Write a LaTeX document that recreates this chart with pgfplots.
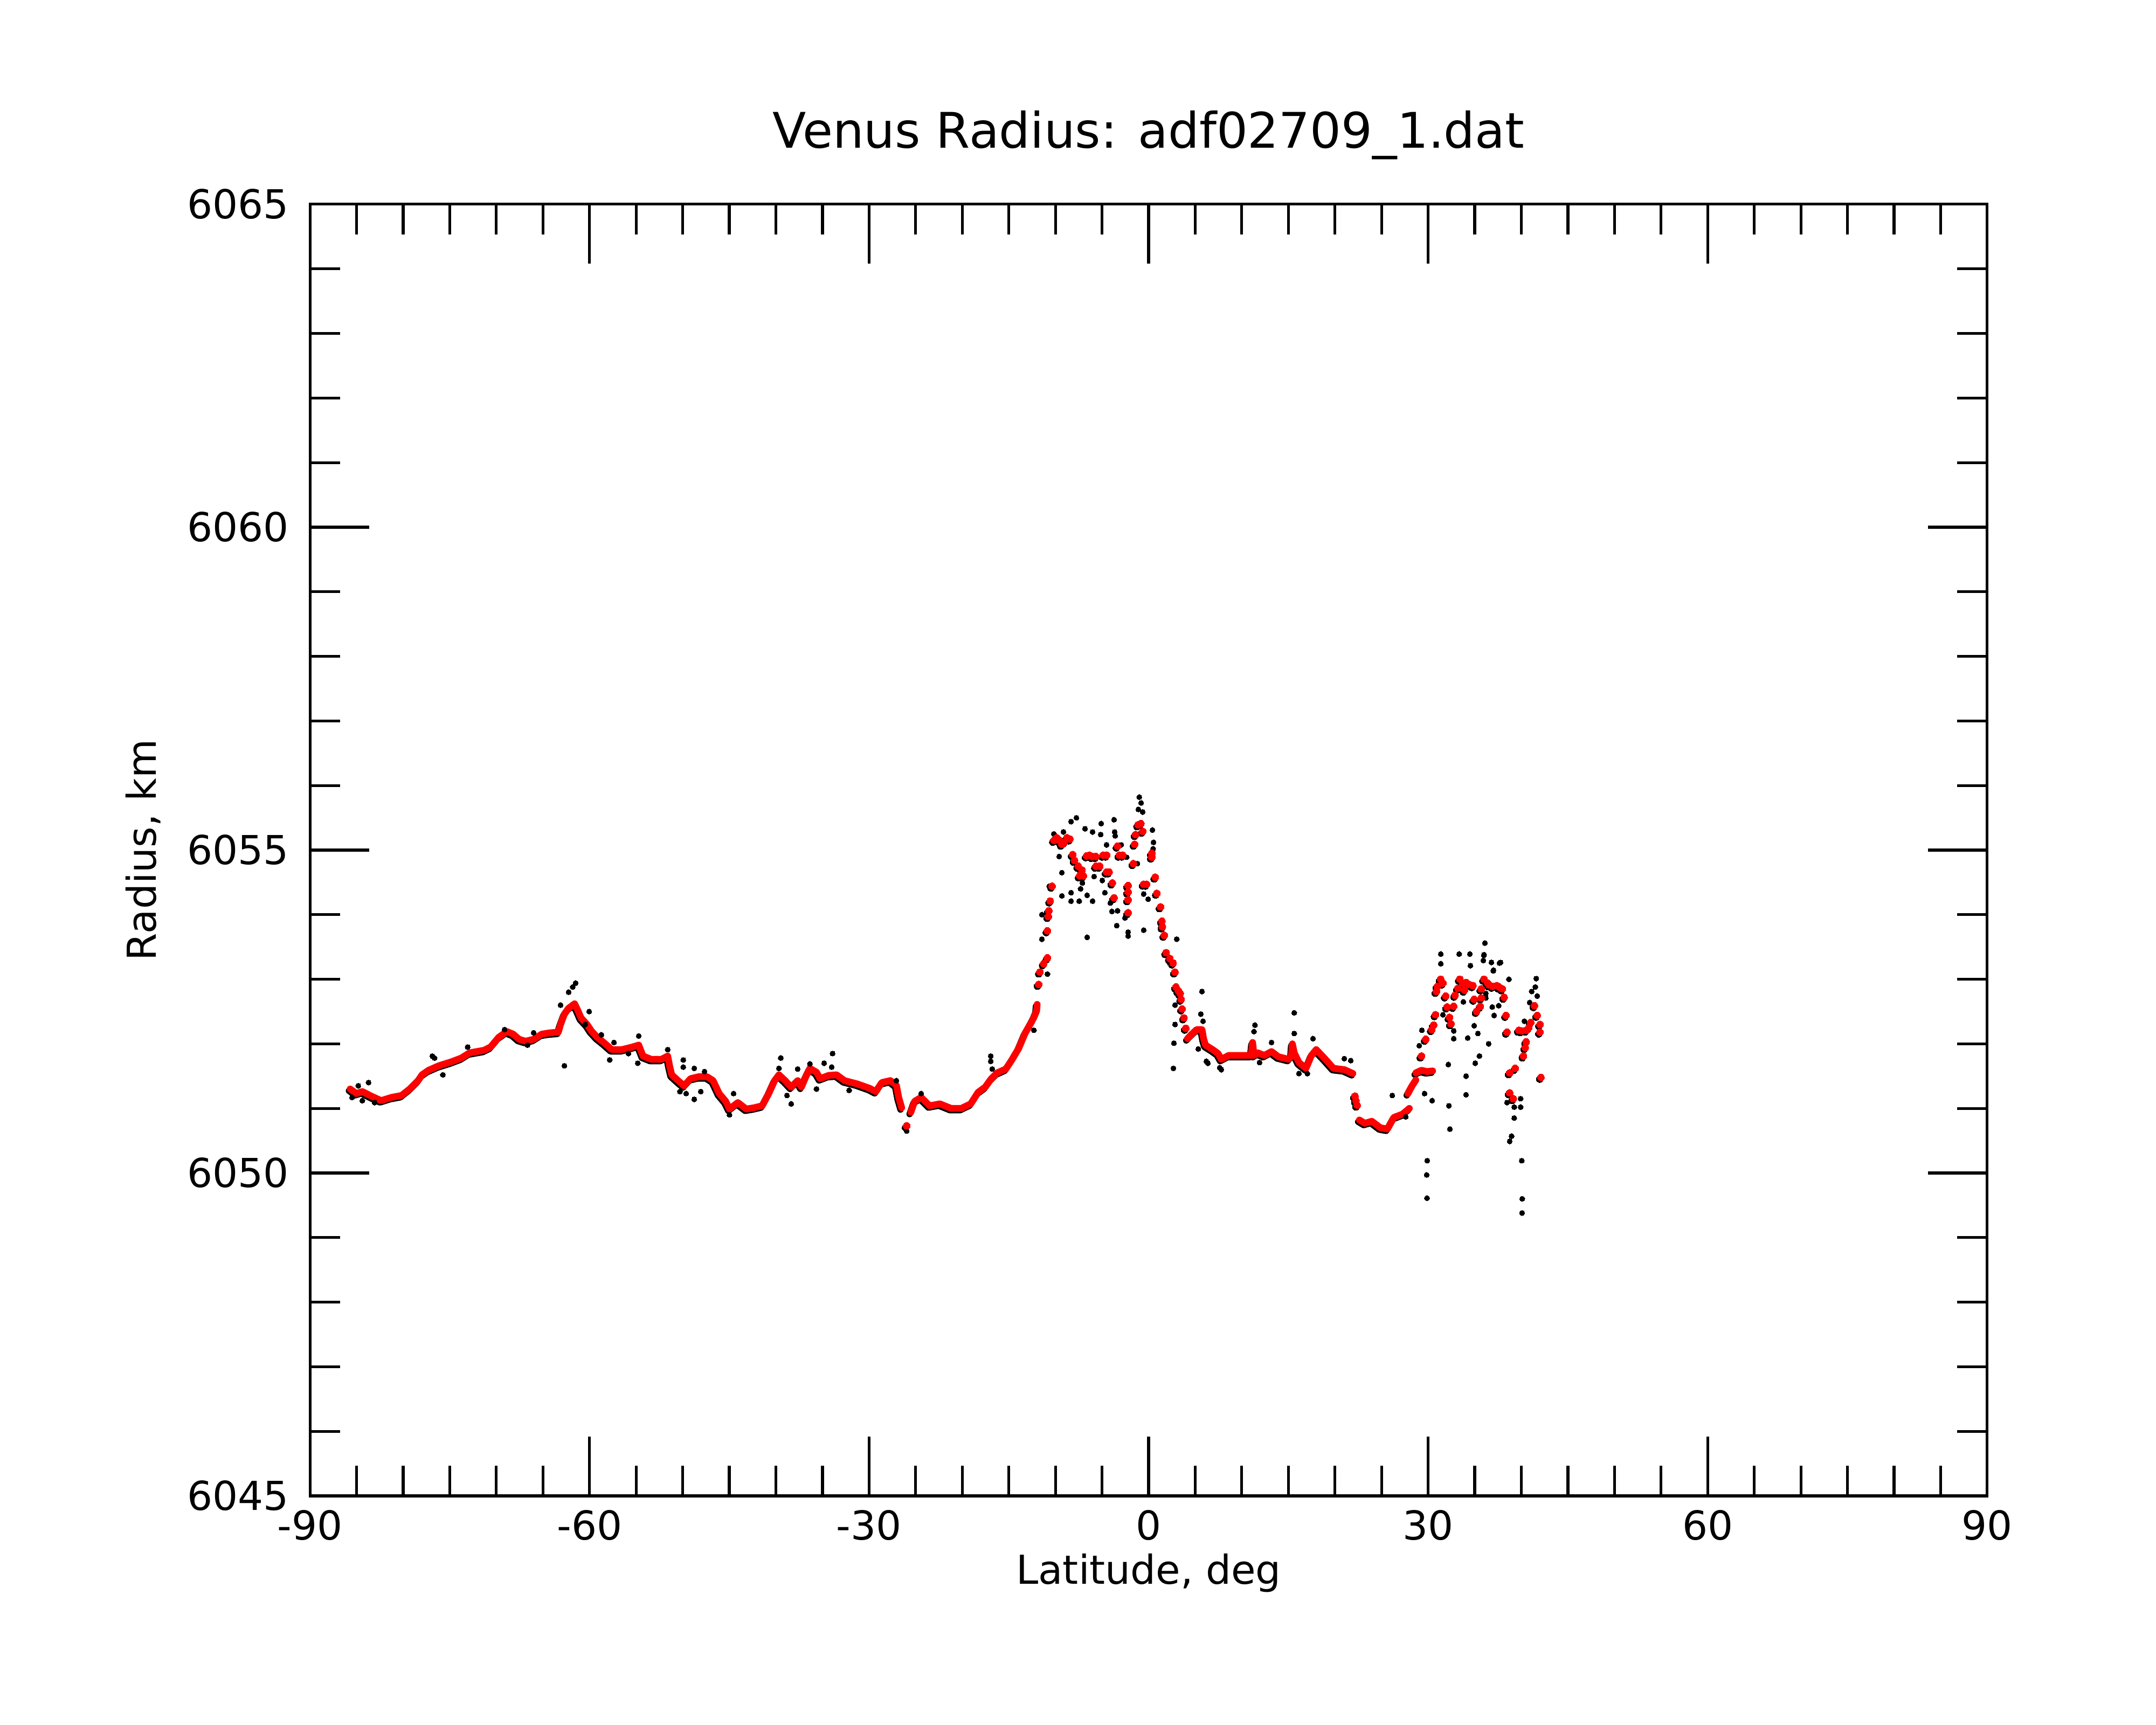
\documentclass[border=0pt]{standalone}
\usepackage{fontspec}
\setmainfont{DejaVu Sans}
\usepackage{pgfplots}
\pgfplotsset{compat=1.18}
\usepackage{pgfplotstable}

\pgfplotstableread{
x y
-85.69 6051.30
-85.03 6051.23
-84.38 6051.26
-83.42 6051.19
-82.37 6051.12
-81.26 6051.17
-80.17 6051.20
-79.30 6051.30
-78.40 6051.43
-77.97 6051.52
-77.28 6051.59
-76.17 6051.66
-74.85 6051.72
-73.75 6051.78
-72.87 6051.86
-71.32 6051.90
-70.62 6051.95
-69.75 6052.10
-68.87 6052.19
-68.20 6052.15
-67.56 6052.07
-66.86 6052.04
-66.00 6052.07
-65.12 6052.15
-64.25 6052.17
-63.35 6052.18
-63.11 6052.30
-62.70 6052.46
-62.25 6052.55
-61.60 6052.62
-61.24 6052.51
-60.91 6052.40
-60.27 6052.30
-59.81 6052.20
-59.17 6052.10
-58.48 6052.02
-57.61 6051.91
-56.52 6051.91
-55.42 6051.95
-54.72 6051.98
-54.26 6051.81
-53.38 6051.76
-52.29 6051.76
-51.61 6051.81
-51.41 6051.66
-51.18 6051.52
-50.50 6051.43
-49.85 6051.35
-49.16 6051.46
-48.30 6051.49
-47.39 6051.49
-46.74 6051.43
-46.09 6051.23
-45.39 6051.11
-44.98 6050.99
-44.08 6051.09
-43.18 6050.99
-42.33 6051.01
-41.47 6051.04
-40.77 6051.23
-40.14 6051.43
-39.67 6051.52
-39.01 6051.43
-38.36 6051.33
-37.66 6051.43
-37.26 6051.33
-36.79 6051.49
-36.35 6051.62
-35.65 6051.56
-35.25 6051.46
-34.35 6051.51
-33.49 6051.52
-32.64 6051.43
-31.30 6051.38
-29.93 6051.31
-29.27 6051.26
-28.63 6051.40
-27.72 6051.43
-27.07 6051.36
-26.82 6051.17
-26.50 6051.01
nan nan
-25.52 6050.94
-25.11 6051.11
-24.41 6051.17
-23.51 6051.04
-22.40 6051.07
-21.20 6051.00
-20.10 6051.00
-19.09 6051.07
-18.29 6051.25
-17.53 6051.33
-16.94 6051.45
-16.25 6051.55
-15.32 6051.61
-14.68 6051.75
-13.94 6051.93
-13.27 6052.16
-12.60 6052.33
-12.31 6052.41
-12.02 6052.51
-11.96 6052.61
nan nan
4.17 6052.08
4.57 6052.14
5.15 6052.22
5.73 6052.22
5.90 6052.08
6.10 6051.98
6.87 6051.91
7.45 6051.85
7.80 6051.76
8.60 6051.82
9.61 6051.82
10.81 6051.82
11.01 6051.82
11.16 6052.02
11.31 6051.82
11.72 6051.86
12.42 6051.82
13.19 6051.88
13.92 6051.80
15.03 6051.76
15.33 6051.81
15.43 6052.00
15.63 6051.86
16.13 6051.71
16.89 6051.62
17.47 6051.82
17.99 6051.91
18.91 6051.77
19.84 6051.62
21.00 6051.60
21.92 6051.54
nan nan
22.62 6050.82
23.20 6050.77
23.96 6050.80
24.87 6050.70
25.63 6050.68
26.32 6050.86
27.24 6050.91
27.98 6051.00
nan nan
27.83 6051.23
28.28 6051.35
28.68 6051.44
nan nan
28.68 6051.55
29.28 6051.59
29.88 6051.57
30.48 6051.58
}\redline

\pgfplotstableread{
x y
-25.97 6050.73
-11.80 6052.92
-11.67 6053.11
-11.26 6053.24
-10.86 6053.33
-10.86 6053.75
-10.76 6053.97
-10.71 6054.06
-10.56 6054.21
-10.36 6054.44
-10.16 6055.15
-9.86 6055.19
-9.56 6055.15
-9.31 6055.09
-9.06 6055.12
-8.76 6055.19
-8.45 6055.17
-8.15 6054.93
-7.95 6054.84
-7.55 6054.75
-7.40 6054.60
-7.15 6054.69
-7.00 6054.60
-6.65 6054.91
-6.35 6054.92
-6.05 6054.90
-5.65 6054.90
-5.65 6054.75
-5.24 6054.75
-4.87 6054.92
-4.51 6054.92
-4.51 6054.66
-4.24 6054.66
-3.89 6054.49
-3.71 6054.26
-3.34 6055.06
-3.14 6054.92
-2.78 6054.92
-2.20 6054.45
-2.20 6054.35
-2.20 6054.23
-2.20 6054.03
-1.63 6054.79
-1.50 6055.09
-1.39 6055.24
-1.13 6055.39
-0.83 6055.41
-0.63 6055.29
-0.53 6054.47
-0.23 6054.47
0.35 6054.95
0.35 6054.89
0.71 6054.58
0.88 6054.33
1.28 6054.12
1.43 6053.90
1.48 6053.81
1.68 6053.68
1.88 6053.41
2.28 6053.32
2.63 6053.25
2.83 6053.11
2.94 6052.88
3.19 6052.82
3.39 6052.78
3.49 6052.69
3.59 6052.54
3.79 6052.40
3.99 6052.24
22.15 6051.19
22.25 6051.12
22.38 6051.05
29.28 6051.81
29.74 6052.07
30.39 6052.22
30.59 6052.29
30.79 6052.45
30.89 6052.81
30.99 6052.89
31.35 6053.00
31.59 6052.94
31.89 6052.74
32.04 6052.57
32.29 6052.41
32.45 6052.31
32.74 6052.58
32.89 6052.75
33.20 6052.86
33.40 6053.00
33.70 6052.94
33.90 6052.83
34.07 6052.95
34.40 6052.92
34.80 6052.90
34.94 6052.69
35.20 6052.50
35.60 6052.58
35.70 6052.71
35.70 6052.85
36.00 6053.00
36.39 6052.94
36.56 6052.91
36.91 6052.89
37.37 6052.90
37.61 6052.88
37.96 6052.85
38.16 6052.72
38.36 6052.44
38.46 6052.18
38.75 6051.55
39.34 6051.62
38.75 6051.24
39.14 6051.15
39.74 6052.21
40.00 6052.20
40.52 6052.21
40.80 6052.25
41.01 6052.33
40.23 6051.81
40.42 6051.94
40.52 6052.03
41.41 6052.59
41.70 6052.44
42.00 6052.30
42.00 6052.18
42.10 6051.48
}\redpts

\pgfplotstableread{
x y
-85.48 6051.17
-84.82 6051.35
-84.38 6051.12
-83.72 6051.40
-83.06 6051.09
-76.87 6051.81
-76.63 6051.78
-75.74 6051.52
-73.08 6051.95
-69.12 6052.22
-66.00 6052.17
-66.66 6051.98
-62.70 6051.66
-63.11 6052.60
-62.25 6052.80
-61.80 6052.88
-61.49 6052.94
-60.47 6052.30
-60.04 6052.50
-58.73 6052.14
-57.83 6051.75
-57.38 6052.02
-55.82 6051.85
-54.72 6052.12
-54.82 6051.70
-51.61 6051.91
-49.94 6051.75
-49.94 6051.64
-48.76 6051.62
-47.66 6051.57
-50.30 6051.26
-49.63 6051.23
-48.76 6051.14
-48.06 6051.26
-44.54 6051.23
-44.98 6050.90
-39.47 6051.78
-39.67 6051.62
-38.81 6051.20
-38.36 6051.07
-37.66 6051.61
-36.35 6051.69
-35.65 6051.30
-34.82 6051.70
-33.92 6051.85
-34.01 6051.64
-32.14 6051.28
-27.07 6051.43
-25.97 6050.65
-24.41 6051.23
-16.94 6051.81
-16.94 6051.73
-16.78 6051.61
-12.31 6052.21
-11.45 6054.00
-11.45 6053.62
-10.86 6053.08
-10.66 6054.44
-10.16 6055.25
-9.14 6055.28
-9.60 6054.90
-9.31 6054.65
-9.31 6054.29
-8.32 6054.34
-8.32 6054.21
-8.32 6055.44
-7.75 6055.50
-7.45 6054.21
-7.30 6054.40
-7.11 6054.49
-6.82 6055.33
-6.60 6054.30
-6.60 6053.65
-6.01 6054.21
-6.01 6055.28
-5.85 6054.59
-5.14 6055.24
-5.09 6055.41
-4.97 6054.53
-4.69 6054.34
-4.51 6055.08
-4.11 6054.18
-3.94 6054.05
-3.71 6055.47
-3.64 6055.28
-3.59 6055.22
-3.42 6053.83
-3.34 6054.06
-2.94 6055.08
-2.53 6053.95
-2.36 6054.89
-2.20 6053.73
-2.20 6053.67
-1.21 6054.79
-1.00 6055.82
-0.80 6055.73
-1.10 6055.63
-0.64 6055.59
-0.53 6053.76
-0.53 6054.32
-0.05 6054.24
0.41 6055.31
0.53 6055.12
0.48 6055.02
0.71 6054.55
2.25 6053.25
3.02 6053.62
2.84 6052.60
2.84 6052.30
2.72 6052.01
2.66 6051.62
5.73 6052.81
5.60 6052.46
5.84 6052.35
5.33 6051.92
6.20 6051.73
7.63 6051.63
6.36 6051.70
7.80 6051.60
11.31 6052.19
11.41 6052.29
11.91 6051.71
13.19 6052.02
15.63 6052.16
15.63 6052.48
17.64 6052.08
16.13 6051.54
17.04 6051.54
21.00 6051.77
21.70 6051.74
26.15 6051.20
27.60 6050.87
31.36 6053.39
31.36 6053.24
33.33 6053.39
34.48 6053.39
34.54 6053.21
36.09 6053.56
35.98 6053.37
35.92 6053.29
36.79 6053.26
37.66 6053.25
37.01 6053.14
38.67 6053.00
40.90 6052.64
31.59 6052.45
32.75 6052.20
32.75 6052.08
33.78 6052.65
34.94 6052.28
35.34 6052.16
34.25 6052.09
36.49 6052.00
37.08 6052.44
36.88 6052.57
37.57 6052.59
36.19 6052.71
36.19 6052.78
37.77 6053.26
36.99 6053.13
36.00 6053.38
35.50 6051.81
35.05 6051.70
32.17 6051.68
34.07 6051.50
34.07 6051.21
32.23 6051.04
32.34 6050.68
29.90 6050.19
29.84 6049.97
29.88 6049.61
30.43 6051.12
29.61 6051.23
29.33 6052.21
29.04 6051.97
41.60 6053.01
41.50 6052.88
41.11 6052.81
41.70 6052.74
40.33 6052.35
39.93 6051.15
38.46 6051.09
39.24 6051.02
39.93 6051.02
39.24 6050.85
38.95 6050.57
38.75 6050.49
40.05 6050.19
40.10 6049.60
40.08 6049.38
}\blackpts

\begin{document}
\begin{tikzpicture}
\begin{axis}[
  scale only axis,
  width=420.4pt, height=323.7pt,
  xmin=-90, xmax=90, ymin=6045, ymax=6065,
  xtick={-90,-60,-30,0,30,60,90},
  xticklabels={-90,-60,-30,0,30,60,90},
  ytick={6045,6050,6055,6060,6065},
  yticklabels={6045,6050,6055,6060,6065},
  minor x tick num=5,
  minor y tick num=4,
  tick align=inside,
  major tick length=14.9pt,
  minor tick length=7.6pt,
  tick style={line width=0.7pt, black},
  axis line style={line width=0.7pt},
  yticklabel style={xshift=-1.8pt},
  ticklabel style={font=\fontsize{10}{12}\selectfont},
  xlabel={Latitude, deg},
  ylabel={Radius, km},
  xlabel style={at={(axis description cs:0.5,-0.0596)}, anchor=center, font=\fontsize{10}{12}\selectfont},
  ylabel style={at={(axis description cs:-0.0994,0.5)}, anchor=center, font=\fontsize{10}{12}\selectfont},
  every axis title shift=0pt,
  title={Venus Radius: adf02709\_1.dat},
  title style={at={(axis description cs:0.5,1.0534)}, anchor=center, font=\fontsize{12.3}{14}\selectfont},
]
\addplot[black, line width=1.6pt, line cap=round, line join=round, unbounded coords=jump, xshift=-0.3pt, yshift=-0.45pt] table {\redline};
\addplot[only marks, mark=*, mark size=0.85pt, black, mark options={line width=0pt}, xshift=-0.3pt, yshift=-0.45pt] table {\redpts};
\addplot[only marks, mark=*, mark size=0.65pt, black, mark options={line width=0pt}] table {\blackpts};
\addplot[red, line width=1.7pt, line cap=round, line join=round, unbounded coords=jump] table {\redline};
\addplot[only marks, mark=*, mark size=0.88pt, red, mark options={line width=0pt, draw=red, fill=red}] table {\redpts};
\end{axis}
\pgfresetboundingbox
\useasboundingbox (-77.7pt,-57.4pt) rectangle (462.7pt,374.9pt);
\end{tikzpicture}
\end{document}
